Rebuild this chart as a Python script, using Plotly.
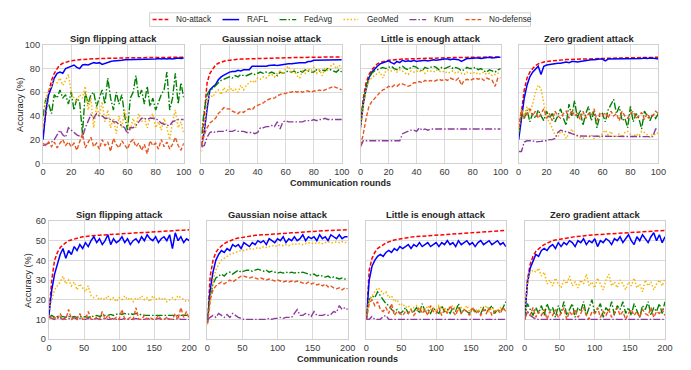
import plotly.graph_objects as go

# ---------------- data ----------------
rounds_top = list(range(0, 101, 2))
rounds_bottom = list(range(0, 201, 4))
titles = ["Sign flipping attack", "Gaussian noise attack",
          "Little is enough attack", "Zero gradient attack"]
series_names = ["No-attack", "RAFL", "FedAvg", "GeoMed", "Krum", "No-defense"]
top_xticks = [0, 20, 40, 60, 80, 100]
top_yticks = [0, 20, 40, 60, 80, 100]
bottom_xticks = [0, 50, 100, 150, 200]
bottom_yticks = [0, 10, 20, 30, 40, 50, 60]

# --- top row (100 rounds) ---
t1_na = [25, 45, 60, 70, 76, 80, 83, 84.5, 85.5, 86,
         86.5, 87, 87.2, 87.5, 87.7, 88, 88.1, 88.2, 88.3, 88.4,
         88.5, 88.6, 88.7, 88.8, 88.8, 88.9, 88.9, 89, 89, 89,
         89.1, 89.1, 89.1, 89.2, 89.2, 89.2, 89.3, 89.3, 89.3, 89.3,
         89.4, 89.4, 89.4, 89.4, 89.5, 89.5, 89.5, 89.5, 89.5, 89.6, 89.6]
t1_rafl = [20, 45, 58, 64, 72, 76, 77, 76, 80, 81,
           82, 83, 81, 80, 83, 83.5, 83, 84, 85, 84.5,
           85, 83.5, 84.5, 85.5, 86, 86.5, 86.5, 87, 87, 87.5,
           87.5, 87.5, 87.5, 88, 87.5, 88, 88, 87.5, 88, 88,
           88, 88.5, 88, 88.5, 88, 88.5, 88, 88.5, 89, 88.5, 89]
t1_fed = [40, 55, 50, 42, 58, 55, 62, 55, 58, 50,
          60, 45, 55, 52, 25, 60, 50, 58, 60, 48,
          55, 62, 50, 72, 55, 45, 60, 50, 58, 40,
          28, 55, 60, 74, 55, 62, 50, 65, 48, 55,
          45, 52, 58, 62, 77, 45, 55, 76, 50, 68, 55]
t1_geo = [30, 55, 62, 65, 70, 68, 72, 66, 70, 75,
          60, 55, 52, 58, 55, 65, 45, 55, 30, 48,
          40, 52, 35, 45, 30, 38, 25, 40, 30, 45,
          35, 28, 38, 30, 42, 35, 38, 30, 38, 42,
          30, 35, 28, 38, 30, 20, 35, 45, 30, 35, 25]
t1_krum = [15, 16, 17, 18, 20, 24, 28, 24, 22, 30,
           28, 26, 24, 23, 22, 30, 35, 41, 38, 42,
           40, 40, 38, 38, 37, 35, 35, 33, 32, 30,
           25, 30, 30, 32, 35, 38, 38, 37, 38, 38,
           38, 36, 34, 33, 32, 32, 35, 36, 37, 37, 37]
t1_nodef = [17, 15, 18, 14, 18, 13, 17, 20, 15, 18,
            14, 17, 11, 19, 25, 13, 18, 22, 14, 17,
            12, 20, 15, 18, 10, 21, 16, 13, 19, 15,
            12, 18, 20, 14, 17, 11, 16, 8, 19, 15,
            17, 12, 20, 14, 18, 12, 16, 22, 15, 11, 17]

t2_na = [15, 40, 68, 76, 80, 83, 84.5, 85.5, 86.2, 86.8,
         87.2, 87.5, 87.7, 87.9, 88, 88.1, 88.2, 88.3, 88.4, 88.5,
         88.6, 88.7, 88.8, 88.8, 88.9, 88.9, 89, 89, 89.1, 89.1,
         89.2, 89.2, 89.3, 89.3, 89.3, 89.4, 89.4, 89.4, 89.5, 89.5,
         89.5, 89.6, 89.6, 89.6, 89.7, 89.7, 89.7, 89.8, 89.8, 89.8, 89.8]
t2_rafl = [14, 27, 46, 62, 64.5, 66.5, 70.5, 73, 74.5, 76,
           77, 77.5, 77.5, 78.5, 78, 79, 79, 79, 82, 82,
           81.5, 82, 82, 82, 82.5, 83, 83, 82.5, 83, 83,
           84, 84, 84, 84.5, 84.5, 85, 85, 85, 86, 86,
           87, 87, 87, 87.2, 87.5, 87.5, 87.5, 87.5, 87.5, 87, 87.5]
t2_fed = [25, 45, 58, 62, 63, 66, 68, 70, 71, 72,
          73, 72, 74, 73, 75, 74, 74, 75, 76, 75,
          76, 77, 76, 77, 76, 77, 76, 74, 77, 76,
          77, 78, 77, 78, 76, 78, 77, 79, 78, 77,
          77, 79, 78, 79, 78, 80, 79, 78, 77, 79, 77]
t2_geo = [10, 30, 52, 58, 56, 60, 62, 58, 64, 60,
          65, 61, 63, 60, 66, 62, 66, 68, 70, 68,
          72, 71, 73, 72, 74, 75, 73, 76, 78, 75,
          80, 82, 76, 79, 74, 72, 78, 76, 80, 78,
          81, 76, 79, 74, 80, 78, 82, 84, 80, 83, 80]
t2_krum = [14, 15, 22, 26, 27, 26, 27, 27, 27, 28,
           27, 27, 28, 27, 27, 27, 26, 26, 26, 25,
           26, 30, 30, 31, 31, 32, 31, 35, 29, 35,
           36, 35, 35, 35, 35, 35, 35, 36, 36, 36,
           37, 36, 37, 37, 38, 37, 37, 37, 37, 37, 37]
t2_nodef = [15, 24, 30, 34, 36, 38, 42, 45, 47, 46,
            46, 44, 43, 42, 44, 43, 45, 46, 45, 48,
            49, 50, 51, 53, 54, 55, 55, 57, 58, 59,
            59, 60, 60, 61, 60, 61, 60, 61, 61, 60,
            61, 61, 62, 61, 62, 63, 64, 65, 64, 63, 62]

t3_na = [35, 55, 68, 75, 79, 82, 84, 85, 86, 86.5,
         87, 87.3, 87.5, 87.7, 87.9, 88, 88.1, 88.2, 88.3, 88.4,
         88.5, 88.6, 88.7, 88.8, 88.9, 89, 89, 89.1, 89.1, 89.2,
         89.2, 89.3, 89.3, 89.3, 89.4, 89.4, 89.4, 89.5, 89.5, 89.5,
         89.6, 89.6, 89.6, 89.7, 89.7, 89.7, 89.7, 89.8, 89.8, 89.8, 89.8]
t3_rafl = [30, 50, 63, 72, 77, 80, 82, 84, 85, 86,
           86.5, 85, 84, 86, 85, 87, 86, 86.5, 86, 87,
           86, 86.5, 87, 87, 86.5, 87, 87.5, 87, 87.5, 88,
           88, 88, 87.5, 88, 88, 87.5, 86, 87.5, 88.5, 88.5,
           89, 89, 89, 88.5, 89, 89.5, 89.5, 89, 89.5, 89.5, 89.5]
t3_fed = [33, 52, 65, 72, 76, 78, 79, 80, 81, 80,
          81, 82, 80, 79, 81, 82, 80, 79, 81, 82,
          81, 79, 78, 81, 80, 81, 82, 81, 79, 81,
          80, 81, 82, 80, 81, 80, 78, 79, 81, 80,
          80, 81, 79, 80, 78, 77, 79, 78, 77, 79, 80]
t3_geo = [28, 48, 62, 70, 72, 74, 76, 77, 72, 78,
          79, 78, 79, 77, 79, 78, 76, 75, 78, 77,
          78, 77, 79, 76, 78, 78, 77, 79, 78, 77,
          78, 76, 77, 78, 76, 77, 76, 75, 77, 76,
          76, 77, 75, 76, 77, 75, 76, 74, 75, 76, 77]
t3_krum = [14, 19, 19, 19, 19, 19, 19, 19, 19, 19,
           19, 19, 19, 19, 19, 25, 26, 27, 28, 28,
           27, 30, 28, 29, 28, 29, 29, 29, 29, 29,
           29, 29, 29, 29, 28.5, 29, 29, 29, 29, 29,
           29, 29, 29, 29, 29, 29, 29, 29, 29, 29, 29]
t3_nodef = [15, 25, 38, 48, 52, 55, 58, 60, 62, 63,
            65, 64, 66, 65, 67, 67, 66, 65, 66, 68,
            68, 69, 68, 70, 69, 70, 69, 70, 71, 70,
            71, 70, 72, 71, 70, 72, 66, 70, 71, 70,
            71, 72, 71, 72, 70, 72, 71, 70, 65, 72, 72]

t4_na = [25, 45, 62, 72, 77, 80, 82.5, 84, 85, 85.5,
         86, 86.3, 86.6, 86.9, 87.1, 87.3, 87.5, 87.6, 87.7, 87.8,
         87.9, 88, 88.1, 88.2, 88.3, 88.4, 88.5, 88.6, 88.7, 88.8,
         88.8, 88.9, 88.9, 89, 89, 89, 89.1, 89.1, 89.1, 89.2,
         89.2, 89.2, 89.3, 89.3, 89.3, 89.4, 89.4, 89.4, 89.5, 89.5, 89.5]
t4_rafl = [20, 38, 55, 66, 73, 77, 80, 82, 75, 82,
           83, 83.5, 84, 84, 84.5, 84.5, 85, 85.5, 85, 86,
           86, 85.5, 86, 86.5, 87, 87, 87.5, 87.5, 88, 88,
           88, 86.5, 88, 88, 88, 88.5, 88, 88.5, 88.5, 88,
           88.5, 88.5, 88, 88.5, 88.5, 89, 88.5, 89, 89, 88.5, 88]
t4_fed = [25, 42, 38, 45, 35, 42, 38, 45, 40, 36,
          44, 38, 42, 35, 40, 46, 38, 32, 50, 40,
          53, 38, 45, 32, 42, 48, 36, 44, 30, 40,
          42, 35, 45, 50, 54, 42, 48, 36, 38, 30,
          48, 35, 42, 38, 29, 44, 40, 36, 42, 38, 42]
t4_geo = [27, 46, 40, 48, 43, 50, 60, 66, 63, 50,
          38, 35, 29, 24, 22, 27, 26, 21, 25, 29,
          24, 23, 22, 21, 23, 22, 24, 21, 23, 22,
          25, 28, 24, 27, 22, 23, 25, 22, 26, 27,
          24, 22, 25, 23, 27, 26, 24, 22, 25, 24, 26]
t4_krum = [10, 10, 18, 19, 19, 19, 18, 18, 18.5, 19,
           19, 20, 20, 21, 26, 28, 27.5, 27, 26, 25,
           24, 23.5, 23, 23, 23, 22.5, 22.5, 22.5, 22.5, 22.5,
           22.5, 22.5, 22.5, 22.5, 22.5, 22.5, 22.5, 22.5, 22.5, 22.5,
           22.5, 22.5, 22.5, 22.5, 22.5, 22.5, 22.5, 22.5, 22.5, 29, 29]
t4_nodef = [30, 45, 38, 42, 46, 40, 44, 38, 42, 46,
            38, 42, 36, 44, 40, 38, 42, 44, 38, 45,
            40, 42, 37, 44, 38, 42, 40, 46, 36, 42,
            40, 43, 38, 44, 40, 42, 36, 44, 40, 38,
            42, 44, 38, 40, 43, 37, 42, 38, 40, 44, 42]

# --- bottom row (200 rounds) ---
b1_na = [13, 30, 40, 44, 46.5, 48, 49, 50, 50.5, 51,
         51.3, 51.6, 52, 52.2, 52.4, 52.5, 52.6, 52.7, 52.8, 52.9,
         53, 53.1, 53.2, 53.3, 53.4, 53.5, 53.6, 53.7, 53.8, 53.9,
         54, 54, 54.1, 54.2, 54.3, 54.3, 54.4, 54.5, 54.5, 54.6,
         54.7, 54.8, 54.9, 55, 55, 55.1, 55.2, 55.3, 55.3, 55.4, 55.5]
b1_rafl = [12, 25, 33, 38, 43, 46, 41, 45, 43, 47,
           45, 48, 46, 49, 47, 50, 52, 49, 51, 48,
           50, 53, 48, 51, 49, 50, 52, 49, 51, 48,
           50, 51, 49, 52, 50, 53, 51, 50, 52, 49,
           51, 52, 50, 53, 46, 54, 50, 52, 49, 51, 50]
b1_fed = [11, 12, 11, 11.5, 11, 11.5, 11, 11.5, 11, 11.5,
          11, 11.5, 11, 11.5, 11, 11.5, 11.5, 12, 11.5, 12,
          12, 12, 12.5, 12, 12.5, 13, 12.5, 13, 12.5, 13,
          12.5, 13, 12.5, 12.5, 12, 12, 12, 12, 12, 12,
          12, 12, 12, 12, 12, 12, 12, 12, 12, 12, 12]
b1_geo = [15, 20, 25, 27, 29, 32, 28, 30, 27, 29,
          25, 28, 26, 24, 27, 22, 21, 22, 20, 21,
          20, 22, 20, 21, 19, 21, 20, 22, 20, 21,
          19, 21, 20, 22, 20, 21, 19, 22, 20, 21,
          20, 21, 19, 20, 21, 20, 22, 21, 20, 19, 19.5]
b1_krum = [11, 10.5, 10, 11, 10.5, 10, 11, 10.5, 10, 11,
           10, 10.5, 10, 10, 10.5, 10, 10, 10.5, 10, 10,
           10.5, 10, 10, 10.5, 10, 10, 10, 10.5, 10, 10,
           10, 10.5, 10, 10, 10, 10.5, 10, 10, 10, 10.5,
           10, 10, 10.5, 10, 10, 10, 10.5, 10, 10, 10, 10]
b1_nodef = [12, 10, 11, 10, 13, 10, 10, 15, 10, 11,
            10, 13, 10, 10, 14, 10, 10, 11, 10, 14,
            10, 12, 10, 10, 11, 10, 15, 10, 10, 11,
            10, 16, 10, 10, 12, 10, 11, 10, 10, 12,
            10, 10, 11, 10, 10, 13, 10, 16, 11, 14, 10]

b2_na = [8, 32, 40, 44, 46, 47.5, 48.5, 49.3, 50, 50.5,
         51, 51.3, 51.6, 51.9, 52.1, 52.3, 52.5, 52.7, 52.8, 53,
         53.1, 53.3, 53.4, 53.5, 53.6, 53.7, 53.8, 53.9, 54, 54.1,
         54.2, 54.3, 54.4, 54.5, 54.5, 54.6, 54.7, 54.8, 54.8, 54.9,
         55, 55, 55.1, 55.2, 55.2, 55.3, 55.4, 55.4, 55.5, 55.5, 55.6]
b2_rafl = [8, 25, 34, 40, 43, 45, 44, 46, 45, 48,
           47, 48, 46, 49, 48, 47, 49, 48, 50, 49,
           50, 48, 51, 50, 49, 51, 50, 52, 49, 51,
           50, 52, 50, 51, 53, 50, 52, 51, 52, 50,
           53, 51, 52, 50, 53, 52, 51, 53, 51, 52, 52]
b2_fed = [10, 22, 28, 31, 32, 33, 32, 33.5, 34, 33,
          34, 35, 34, 34.5, 35, 35, 34.5, 35, 35.5, 35,
          34.5, 35, 34, 34.5, 34, 33.5, 34, 33.5, 34, 33.5,
          34, 33.5, 34, 33.5, 34, 33.5, 33, 32.5, 33, 32,
          32.5, 32, 31.5, 32, 31, 31.5, 31, 30.5, 31, 30.5, 31]
b2_geo = [7, 20, 30, 35, 38, 40, 41, 42, 43, 43.5,
          44, 44.5, 45, 45, 45.5, 46, 45.5, 46, 46.5, 46,
          47, 46.5, 47, 47.5, 47, 47.5, 48, 47.5, 48, 47.5,
          48, 48.5, 48, 48.5, 48, 48.5, 49, 48.5, 49, 48.5,
          49, 48.5, 49, 49.5, 49, 49, 49.5, 49, 49.5, 49, 49.5]
b2_krum = [10, 11, 12, 11, 13, 12, 11, 12.5, 11, 13,
           12, 11, 10.5, 10, 10, 10, 10, 10, 10, 10,
           10, 10, 10.5, 10, 10.5, 10.5, 11, 10.5, 11, 11,
           11, 13, 15, 12, 12, 13, 12.5, 11.5, 14, 12,
           12, 12, 12.5, 12, 12.5, 14, 13.5, 17, 15, 16, 15]
b2_nodef = [8, 20, 25, 27, 28, 29, 28, 29, 30, 29,
            30, 31, 32, 32, 31.5, 31, 31.5, 31, 30.5, 31,
            30.5, 30, 30.5, 30, 29.5, 30, 29.5, 29, 29.5, 29,
            29.5, 29, 29.5, 29, 28.5, 28, 29, 28, 28.5, 27.5,
            28, 27, 28, 26.5, 27, 26, 25.5, 26, 25, 26, 25.5]

b3_na = [10, 35, 41, 44, 46, 47, 48, 48.8, 49.4, 50,
         50.3, 50.6, 50.9, 51.2, 51.4, 51.6, 51.8, 52, 52.1, 52.3,
         52.4, 52.5, 52.7, 52.8, 52.9, 53, 53.1, 53.2, 53.3, 53.4,
         53.5, 53.6, 53.7, 53.8, 53.9, 54, 54, 54.1, 54.2, 54.3,
         54.4, 54.5, 54.5, 54.6, 54.7, 54.8, 54.9, 55, 55, 55.1, 55.2]
b3_rafl = [10, 30, 37, 40, 42, 43, 42, 44, 45, 44,
           46, 45, 47, 46, 47, 48, 46, 48, 47, 49,
           47, 48, 49, 47, 48, 49, 47, 49, 48, 50,
           48, 49, 47, 50, 48, 49, 50, 48, 49, 47,
           49, 50, 48, 49, 50, 48, 49, 50, 48, 49, 47]
b3_fed = [12, 20, 22, 21, 24, 22, 20, 18, 17, 15,
          14, 15, 13, 14, 16, 13, 15, 14, 16, 13,
          18, 14, 15, 13, 16, 14, 13, 17, 14, 15,
          13, 16, 14, 18, 13, 15, 14, 13, 16, 14,
          15, 13, 16, 14, 15, 17, 13, 15, 14, 16, 19]
b3_geo = [12, 20, 22, 24, 26, 25, 23, 24, 21, 22,
          19, 20, 17, 18, 16, 17, 15, 16, 17, 15,
          16, 14, 17, 15, 16, 14, 17, 15, 16, 14,
          16, 17, 15, 14, 16, 15, 17, 14, 16, 15,
          14, 16, 15, 17, 14, 16, 15, 14, 16, 15, 16]
b3_krum = [10, 10, 11.5, 10, 10, 10, 11.5, 12, 10, 10,
           10, 10, 10, 10, 10, 10, 10, 10, 10, 10,
           10, 10, 10, 10, 10, 10, 10, 10, 10, 10,
           10, 10, 10, 10, 10, 10, 10, 10, 10, 10,
           10, 10, 10, 10, 10, 10, 10, 10, 10, 10, 10]
b3_nodef = [10, 18, 20, 17, 19, 15, 14, 16, 13, 18,
            12, 14, 13, 12, 14, 13, 15, 12, 14, 16,
            13, 15, 12, 17, 14, 13, 16, 12, 15, 13,
            17, 14, 12, 16, 13, 15, 14, 12, 16, 13,
            14, 12, 15, 13, 16, 12, 14, 15, 13, 16, 14]

b4_na = [10, 30, 38, 42, 44.5, 46, 47, 48, 48.8, 49.4,
         50, 50.3, 50.6, 50.9, 51.2, 51.4, 51.6, 51.8, 52, 52.2,
         52.3, 52.5, 52.6, 52.8, 52.9, 53, 53.1, 53.2, 53.3, 53.4,
         53.5, 53.6, 53.7, 53.8, 53.9, 54, 54.1, 54.1, 54.2, 54.3,
         54.4, 54.5, 54.5, 54.6, 54.7, 54.8, 54.9, 55, 55, 55.1, 55.2]
b4_rafl = [10, 28, 36, 40, 43, 42, 45, 46, 45, 47,
           48, 46, 49, 47, 49, 48, 50, 49, 47, 50,
           49, 51, 48, 50, 49, 51, 47, 50, 49, 51,
           50, 48, 51, 50, 52, 49, 51, 53, 50, 48,
           52, 50, 53, 51, 49, 52, 54, 50, 53, 49, 52]
b4_fed = [10, 18, 15, 12, 16, 13, 17, 12, 18, 14,
          16, 11, 17, 13, 19, 12, 15, 18, 11, 16,
          14, 19, 12, 16, 20, 13, 15, 18, 11, 16,
          14, 19, 12, 17, 15, 19, 13, 16, 12, 18,
          14, 11, 17, 15, 19, 12, 16, 14, 18, 13, 19]
b4_geo = [12, 28, 34, 35, 34, 36, 32, 34, 28, 30,
          27, 31, 28, 26, 30, 28, 32, 27, 29, 26,
          30, 28, 33, 27, 29, 26, 31, 28, 25, 30,
          33, 27, 29, 26, 30, 28, 25, 29, 27, 31,
          26, 28, 24, 30, 27, 29, 25, 28, 30, 27, 31]
b4_krum = [10, 14, 12, 11, 10, 10, 10, 10, 10, 10,
           10, 10, 10, 10, 10, 10, 10, 10, 10, 10,
           10, 10, 10, 10, 10, 10, 10, 10, 10, 10,
           10, 10, 10, 10, 10, 10, 10, 10, 10, 10,
           10, 10, 10, 10, 10, 10, 10, 10, 10, 10, 10]
b4_nodef = [10, 14, 12, 16, 11, 14, 12, 15, 10, 14,
            12, 15, 11, 13, 16, 10, 14, 12, 15, 11,
            13, 16, 12, 10, 14, 13, 16, 11, 14, 12,
            15, 11, 13, 16, 12, 14, 10, 13, 15, 12,
            14, 11, 15, 13, 12, 16, 11, 14, 13, 15, 12]

top_panels = [
    [t1_na, t1_rafl, t1_fed, t1_geo, t1_krum, t1_nodef],
    [t2_na, t2_rafl, t2_fed, t2_geo, t2_krum, t2_nodef],
    [t3_na, t3_rafl, t3_fed, t3_geo, t3_krum, t3_nodef],
    [t4_na, t4_rafl, t4_fed, t4_geo, t4_krum, t4_nodef],
]
bottom_panels = [
    [b1_na, b1_rafl, b1_fed, b1_geo, b1_krum, b1_nodef],
    [b2_na, b2_rafl, b2_fed, b2_geo, b2_krum, b2_nodef],
    [b3_na, b3_rafl, b3_fed, b3_geo, b3_krum, b3_nodef],
    [b4_na, b4_rafl, b4_fed, b4_geo, b4_krum, b4_nodef],
]

# ---------------- style ----------------
W, H = 691, 370
FONT = "Liberation Sans, Arial, sans-serif"
TXT = "#262626"
TICK = "#3a3a3a"
colors = ["#ff0000", "#0000ff", "#008000", "#f7b500", "#8a3b9e", "#e8561f"]
dashes = ["4px,2px", "solid", "7px,2px,1.5px,2px", "1.5px,2px",
          "7px,2px,1.5px,2px", "4px,2px"]
widths = [1.5, 1.5, 1.4, 1.5, 1.4, 1.4]

def px_x(p):
    return p / W

def px_y(p):
    return 1 - p / H

top_x_px = [(40.7, 183.7), (201.7, 344.3), (363.3, 505.7), (524, 666)]
bot_x_px = [(46.7, 189.3), (207.7, 350.3), (369.3, 511), (530, 672.7)]
top_y_px = (41, 162.7)
bot_y_px = (222, 343.3)

fig = go.Figure()
layout = dict(width=W, height=H, margin=dict(l=0, r=0, t=0, b=0),
              paper_bgcolor="white", plot_bgcolor="white", showlegend=False,
              font=dict(family=FONT, color=TXT, size=9))

axis_common = dict(showgrid=True, gridcolor="#dadada", gridwidth=1.3,
                   showline=True, mirror=True, linecolor="#d0d0d0", linewidth=1.3,
                   zeroline=False, ticks="", tickfont=dict(family=FONT, size=9.2, color=TICK))

annotations = []
for row in range(2):
    panels = top_panels if row == 0 else bottom_panels
    rounds = rounds_top if row == 0 else rounds_bottom
    xpx = top_x_px if row == 0 else bot_x_px
    ypx = top_y_px if row == 0 else bot_y_px
    for c in range(4):
        k = row * 4 + c + 1
        sfx = "" if k == 1 else str(k)
        for s, vals in enumerate(panels[c]):
            assert len(vals) == len(rounds), (row, c, s, len(vals))
            fig.add_trace(go.Scatter(
                x=rounds, y=vals, mode="lines", name=series_names[s],
                line=dict(color=colors[s], width=widths[s], dash=dashes[s]),
                xaxis="x" + sfx, yaxis="y" + sfx, hoverinfo="skip"))
        xa = dict(axis_common, domain=[px_x(xpx[c][0]), px_x(xpx[c][1])],
                  anchor="y" + sfx,
                  range=[0, 100] if row == 0 else [0, 200],
                  tickvals=top_xticks if row == 0 else bottom_xticks)
        ya = dict(axis_common, domain=[px_y(ypx[1]), px_y(ypx[0])],
                  anchor="x" + sfx,
                  range=[0, 100] if row == 0 else [0, 60],
                  tickvals=top_yticks if row == 0 else bottom_yticks,
                  showticklabels=(c == 0))
        layout["xaxis" + sfx] = xa
        layout["yaxis" + sfx] = ya
        # panel title
        annotations.append(dict(
            text=titles[c], xref="paper", yref="paper",
            x=px_x((xpx[c][0] + xpx[c][1]) / 2),
            y=px_y(34 if row == 0 else 215.5),
            xanchor="center", yanchor="middle", showarrow=False,
            font=dict(family=FONT, size=9.4, color=TXT, weight="bold")))

# axis labels
for (xc, yc, txt, ang, bold) in [
        (18, 102, "Accuracy (%)", -90, False),
        (26, 283, "Accuracy (%)", -90, False),
        (343, 183, "Communication rounds", 0, True),
        (350, 364, "Communication rounds", 0, True)]:
    annotations.append(dict(
        text=txt, xref="paper", yref="paper", x=px_x(xc), y=px_y(yc),
        xanchor="center", yanchor="middle", showarrow=False, textangle=ang,
        font=dict(family=FONT, size=9 if bold else 9.2, color=TXT,
                  weight="bold" if bold else "normal")))

# legend (drawn as a framed key)
shapes = [dict(type="rect", xref="paper", yref="paper",
               x0=px_x(149), x1=px_x(536), y0=px_y(22), y1=px_y(8),
               line=dict(color="#d0d0d0", width=1), fillcolor="white")]
leg_line = [(152, 168), (223, 240), (281, 298), (346, 361), (413, 430), (470, 486)]
leg_text = [174, 246, 304, 368, 436, 492]
for s in range(6):
    shapes.append(dict(type="line", xref="paper", yref="paper",
                       x0=px_x(leg_line[s][0]), x1=px_x(leg_line[s][1]),
                       y0=px_y(15), y1=px_y(15),
                       line=dict(color=colors[s], width=widths[s], dash=dashes[s])))
    annotations.append(dict(
        text=series_names[s], xref="paper", yref="paper",
        x=px_x(leg_text[s]), y=px_y(15), xanchor="left", yanchor="middle",
        showarrow=False, font=dict(family=FONT, size=8.2, color=TXT)))

layout["annotations"] = annotations
layout["shapes"] = shapes
fig.update_layout(**layout)
fig.write_html("out.html", config={"displayModeBar": False},
               post_script="document.body.style.margin='0';document.body.style.padding='0';")
